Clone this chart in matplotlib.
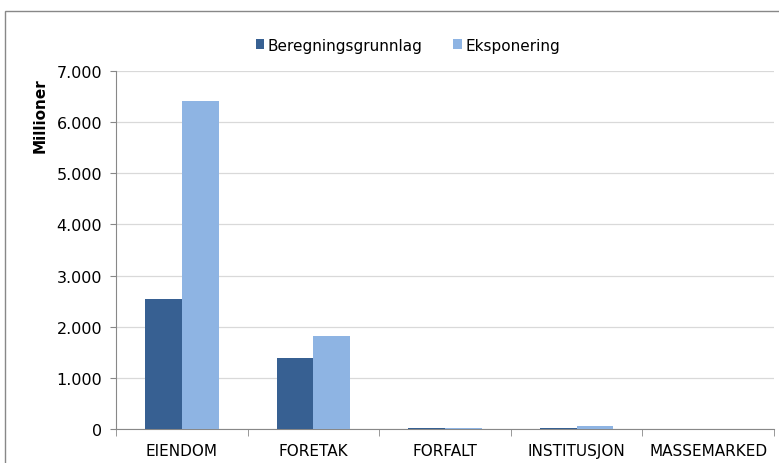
import matplotlib.pyplot as plt
from matplotlib.patches import Rectangle
import numpy as np

plt.rcParams["font.family"] = "DejaVu Sans"

categories = ["EIENDOM", "FORETAK", "FORFALT", "INSTITUSJON", "MASSEMARKED"]
beregning = [2540, 1390, 15, 10, 3]
eksponering = [6420, 1810, 10, 60, 3]

dark = "#376092"
light = "#8EB4E3"

fig = plt.figure(figsize=(7.79, 4.64), dpi=100)
fig.patches.append(Rectangle((5 / 779, -0.1), 1.1, 1 - 12 / 464 + 0.1, transform=fig.transFigure,
                             fill=False, edgecolor="#888888", linewidth=1.0))

ax = fig.add_axes([116 / 779, 1 - 430 / 464, (774 - 116) / 779, (430 - 72) / 464])
x = np.arange(len(categories))
w = 0.28
ax.bar(x - w / 2, beregning, w, color=dark, label="Beregningsgrunnlag", zorder=3)
ax.bar(x + w / 2, eksponering, w, color=light, label="Eksponering", zorder=3)

ax.set_xlim(-0.5, 4.5)
ax.set_ylim(0, 7000)
ax.set_yticks(range(0, 7001, 1000))
ax.set_yticklabels(["0" if v == 0 else f"{v // 1000}.{v % 1000:03d}" for v in range(0, 7001, 1000)])
ax.yaxis.grid(True, color="#d9d9d9", linewidth=0.9, zorder=0)

ax.set_xticks(x)
ax.set_xticklabels(categories)
ax.set_xticks(np.arange(-0.5, 5, 1), minor=True)
ax.tick_params(axis="x", which="major", length=0, pad=10, labelsize=11)
ax.tick_params(axis="x", which="minor", length=5, color="#888888")
ax.tick_params(axis="y", length=4, color="#888888", labelsize=11.5, pad=6)

for s in ["top", "right"]:
    ax.spines[s].set_visible(False)
for s in ["left", "bottom"]:
    ax.spines[s].set_color("#888888")

fig.text(40 / 779, 1 - 116 / 464, "Millioner", rotation=90, fontweight="bold", fontsize=11,
         ha="center", va="center")

fig.legend(loc="center", bbox_to_anchor=(408 / 779, 1 - 46 / 464), ncol=2, frameon=False,
           fontsize=11, handlelength=0.55, handleheight=0.55, handletextpad=0.25, columnspacing=2.0)

fig.savefig("out.png", dpi=100)
